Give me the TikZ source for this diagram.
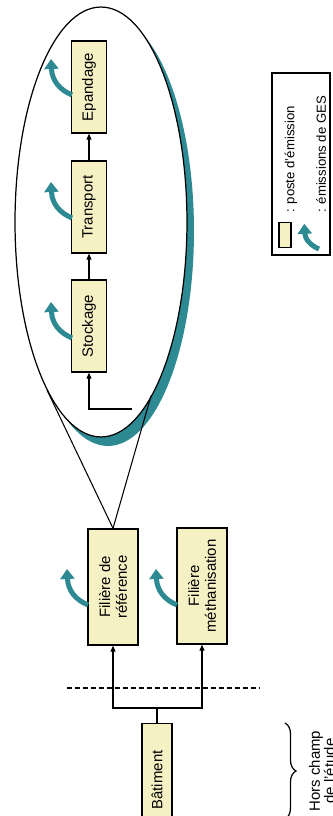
\documentclass[tikz,border=0pt]{standalone}
\usepackage{fontspec}
\setmainfont{Liberation Sans}
\usetikzlibrary{shapes.geometric, arrows.meta, decorations.pathreplacing}

\definecolor{posteyellow}{RGB}{246,241,196}
\definecolor{gesteal}{RGB}{45,138,146}

\begin{document}
\begin{tikzpicture}[
    rotate=90, transform shape,
    x=0.02cm, y=0.02cm,
    poste/.style={rectangle, draw, line width=0.8pt, fill=posteyellow, minimum width=1.84cm, minimum height=0.7cm, inner sep=1pt, align=center, font=\fontsize{8.5}{9.5}\selectfont},
    filiere/.style={poste, minimum width=2.32cm, minimum height=1cm},
    zone/.style={ellipse, minimum width=8.6cm, minimum height=3.44cm, inner sep=0pt, outer sep=0pt},
    arrow/.style={-{Triangle[length=0.12cm, width=0.1cm]}, line width=0.6pt},
    link/.style={line width=0.6pt},
    legendtext/.style={anchor=west, font=\fontsize{7.5}{9}\selectfont},
    ges/.pic={\draw[line width=0.1cm, gesteal, -{Triangle[length=0.2cm, width=0.28cm]}] (0,0) .. controls (5,12) and (14,20) .. (36,21);}
]
\useasboundingbox (0,0) rectangle (816,332);

% Building (out of scope)
\node[poste, minimum width=2.26cm, minimum height=0.6cm] (batiment) at (36,175) {Bâtiment};

% The two pathways
\node[filiere] (reference) at (229,219) {Filière de\\référence};
\node[filiere] (metha) at (230,130) {Filière\\méthanisation};

% Boundary of the study
\draw[line width=0.8pt, dash pattern=on 0.1cm off 0.06cm] (128,265) -- (128,72);

\coordinate (split) at (108,175);
\draw[link] (batiment.east) -- (split);
\draw[arrow] (split) |- (reference.west);
\draw[arrow] (split) |- (metha.west);

% Detail of the reference pathway
\node[zone, fill=gesteal] (shadow) at (585,224) {};
\node[zone, draw, line width=0.7pt, fill=white] (detail) at (594,231) {};
\coordinate (zoomleft) at (426,285);
\coordinate (zoomright) at (420,181);
\draw[link] (reference.east) -- (zoomleft);
\draw[link] (reference.east) -- (zoomright);

\node[poste] (stockage) at (490,243) {Stockage};
\node[poste] (transport) at (609,243) {Transport};
\node[poste] (epandage) at (729,243) {Epandage};

\coordinate (entry) at (407,200);
\draw[arrow] (entry) |- (stockage.west);
\draw[arrow] (stockage) -- (transport);
\draw[arrow] (transport) -- (epandage);

% GHG emissions
\pic at (211,244) {ges};
\pic at (211,155) {ges};
\pic at (478,260) {ges};
\pic at (598,260) {ges};
\pic at (721,260) {ges};

% Out of scope
\draw[decorate, decoration={brace, amplitude=0.22cm}, line width=0.7pt] (93,47) -- (-3,47);
\node[align=center, font=\fontsize{8.5}{8.5}\selectfont] (horschamp) at (45,10) {Hors champ\\de l'étude};

% Legend
\node[draw, line width=0.8pt, minimum width=3.64cm, minimum height=1.16cm] (legend) at (652,31) {};
\node[poste, minimum width=0.5cm, minimum height=0.24cm, inner sep=0pt] (keybox) at (581,47) {};
\node[legendtext] (keytext) at (597,41) {: poste d'émission};
\pic[scale=0.7] at (567,13) {ges};
\node[legendtext] (gestext) at (597,11) {: émissions de GES};

\end{tikzpicture}
\end{document}
